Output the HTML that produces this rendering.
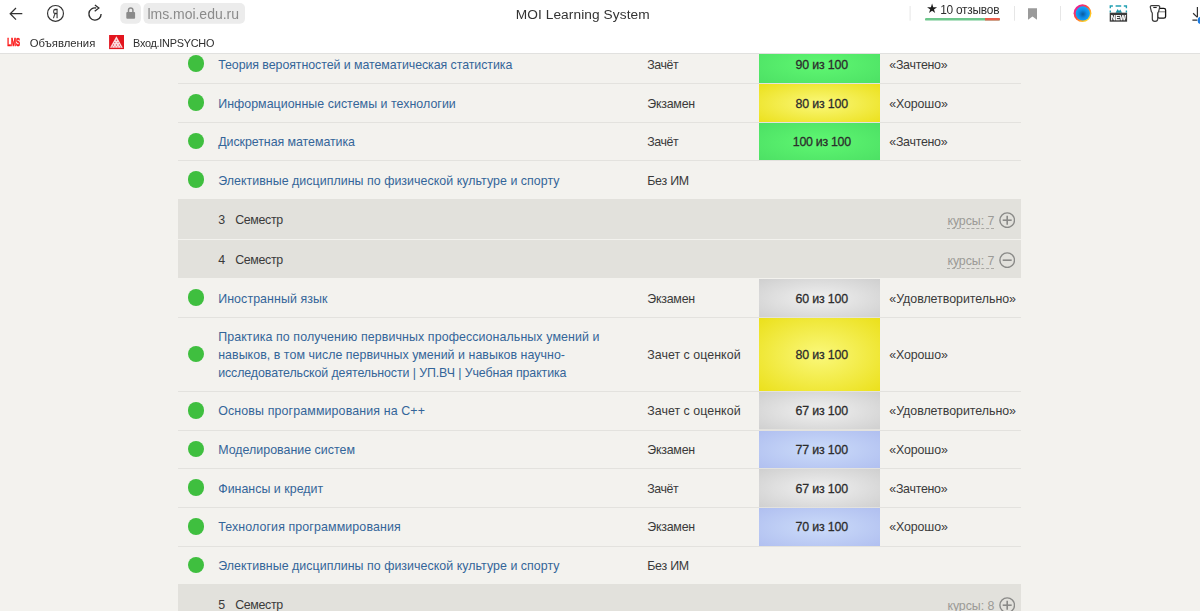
<!DOCTYPE html><html lang="ru"><head><meta charset="utf-8"><title>MOI Learning System</title><style>
html,body{margin:0;padding:0}
body{width:1200px;height:611px;overflow:hidden;background:#f3f2ee;position:relative;font-family:"Liberation Sans",sans-serif;font-size:12.4px;color:#3a3a3a}
.abs{position:absolute}
.ct{white-space:nowrap}
#chrome{position:absolute;left:0;top:0;width:1200px;height:53px;background:#fff;border-bottom:1px solid #e1e1df;box-sizing:content-box;z-index:5;will-change:transform}
.t{position:absolute;white-space:nowrap;line-height:18px}
.t.l{color:#336599}
.t.sc{color:#2c2c2c;-webkit-text-stroke:0.28px #2c2c2c}
.t.k{color:#9b9a96}
.sep{position:absolute;left:178px;width:843px;height:1px;background:#e3e2de}
.dot{position:absolute;left:187.9px;width:16.6px;height:16.6px;border-radius:50%;background:#3fbf3f}
.score{position:absolute;left:759px;width:121px}
.score i{position:absolute;left:0;right:0;bottom:0;height:1px;background:#e3e2de}
.g{background:radial-gradient(ellipse at center,#5ff772 0%,#4ce064 100%)}
.y{background:radial-gradient(ellipse at center,#faf87a 0%,#ebe01a 100%)}
.s{background:radial-gradient(ellipse at center,#f0f0f0 0%,#cfcfcf 100%)}
.b{background:radial-gradient(ellipse at center,#cbdbf9 0%,#b0bff0 100%)}
.sem{position:absolute;left:178px;width:843px;background:#e2e1dc}
.dash{position:absolute;height:0;border-bottom:1px dashed #aaa9a5}
svg.ic{position:absolute}
</style></head><body>
<main id="courses">
<div class="row">
<div class="sep" style="top:82.8px"></div>
<div class="score g" style="top:45.1px;height:38.7px"><i></i></div>
<div class="dot" style="top:55.4px"></div>
<div class="t l" style="left:218.2px;top:56px;letter-spacing:-0.065px;">Теория вероятностей и математическая статистика</div>
<div class="t " style="left:647.2px;top:56px;letter-spacing:-0.406px;">Зачёт</div>
<div class="t sc" style="left:795.6px;top:56px;letter-spacing:-0.169px;">90 из 100</div>
<div class="t " style="left:889.3px;top:56px;letter-spacing:-0.277px;">«Зачтено»</div>
</div>
<div class="row">
<div class="sep" style="top:121.7px"></div>
<div class="score y" style="top:83.8px;height:38.9px"><i></i></div>
<div class="dot" style="top:94.2px"></div>
<div class="t l" style="left:218.2px;top:95px;letter-spacing:0.036px;">Информационные системы и технологии</div>
<div class="t " style="left:647.2px;top:95px;letter-spacing:-0.216px;">Экзамен</div>
<div class="t sc" style="left:795.6px;top:95px;letter-spacing:-0.169px;">80 из 100</div>
<div class="t " style="left:889.3px;top:95px;letter-spacing:-0.132px;">«Хорошо»</div>
</div>
<div class="row">
<div class="sep" style="top:159.8px"></div>
<div class="score g" style="top:122.7px;height:38.1px"><i></i></div>
<div class="dot" style="top:132.6px"></div>
<div class="t l" style="left:218.2px;top:133px;letter-spacing:-0.047px;">Дискретная математика</div>
<div class="t " style="left:647.2px;top:133px;letter-spacing:-0.406px;">Зачёт</div>
<div class="t sc" style="left:792.8px;top:133px;letter-spacing:-0.283px;">100 из 100</div>
<div class="t " style="left:889.3px;top:133px;letter-spacing:-0.277px;">«Зачтено»</div>
</div>
<div class="row">
<div class="sep" style="top:198.7px"></div>
<div class="dot" style="top:171.1px"></div>
<div class="t l" style="left:218.2px;top:172px;letter-spacing:0.043px;">Элективные дисциплины по физической культуре и спорту</div>
<div class="t " style="left:647.2px;top:172px;letter-spacing:-0.222px;">Без ИМ</div>
</div>
<div class="row">
<div class="sep" style="top:316.8px"></div>
<div class="score s" style="top:278.8px;height:39.0px"><i></i></div>
<div class="dot" style="top:289.2px"></div>
<div class="t l" style="left:218.2px;top:290px;letter-spacing:0.089px;">Иностранный язык</div>
<div class="t " style="left:647.2px;top:290px;letter-spacing:-0.216px;">Экзамен</div>
<div class="t sc" style="left:795.6px;top:290px;letter-spacing:-0.169px;">60 из 100</div>
<div class="t " style="left:889.3px;top:290px;letter-spacing:-0.021px;">«Удовлетворительно»</div>
</div>
<div class="row">
<div class="sep" style="top:391.3px"></div>
<div class="score y" style="top:317.8px;height:74.5px"><i></i></div>
<div class="dot" style="top:345.9px"></div>
<div class="t l" style="left:218.2px;top:328px;letter-spacing:0.104px;">Практика по получению первичных профессиональных умений и</div>
<div class="t l" style="left:218.2px;top:346px;letter-spacing:0.046px;">навыков, в том числе первичных умений и навыков научно-</div>
<div class="t l" style="left:218.2px;top:364px;letter-spacing:-0.098px;">исследовательской деятельности | УП.ВЧ | Учебная практика</div>
<div class="t " style="left:647.2px;top:346px;letter-spacing:0.046px;">Зачет с оценкой</div>
<div class="t sc" style="left:795.6px;top:346px;letter-spacing:-0.169px;">80 из 100</div>
<div class="t " style="left:889.3px;top:346px;letter-spacing:-0.132px;">«Хорошо»</div>
</div>
<div class="row">
<div class="sep" style="top:429.5px"></div>
<div class="score s" style="top:392.3px;height:38.2px"><i></i></div>
<div class="dot" style="top:402.3px"></div>
<div class="t l" style="left:218.2px;top:402px;letter-spacing:0.135px;">Основы программирования на C++</div>
<div class="t " style="left:647.2px;top:402px;letter-spacing:0.046px;">Зачет с оценкой</div>
<div class="t sc" style="left:795.6px;top:402px;letter-spacing:-0.169px;">67 из 100</div>
<div class="t " style="left:889.3px;top:402px;letter-spacing:-0.021px;">«Удовлетворительно»</div>
</div>
<div class="row">
<div class="sep" style="top:467.8px"></div>
<div class="score b" style="top:430.5px;height:38.3px"><i></i></div>
<div class="dot" style="top:440.5px"></div>
<div class="t l" style="left:218.2px;top:441px;letter-spacing:0.020px;">Моделирование систем</div>
<div class="t " style="left:647.2px;top:441px;letter-spacing:-0.216px;">Экзамен</div>
<div class="t sc" style="left:795.6px;top:441px;letter-spacing:-0.169px;">77 из 100</div>
<div class="t " style="left:889.3px;top:441px;letter-spacing:-0.132px;">«Хорошо»</div>
</div>
<div class="row">
<div class="sep" style="top:507.0px"></div>
<div class="score s" style="top:468.8px;height:39.2px"><i></i></div>
<div class="dot" style="top:479.3px"></div>
<div class="t l" style="left:218.2px;top:480px;letter-spacing:0.027px;">Финансы и кредит</div>
<div class="t " style="left:647.2px;top:480px;letter-spacing:-0.406px;">Зачёт</div>
<div class="t sc" style="left:795.6px;top:480px;letter-spacing:-0.169px;">67 из 100</div>
<div class="t " style="left:889.3px;top:480px;letter-spacing:-0.277px;">«Зачтено»</div>
</div>
<div class="row">
<div class="sep" style="top:545.6px"></div>
<div class="score b" style="top:508.0px;height:38.6px"><i></i></div>
<div class="dot" style="top:518.2px"></div>
<div class="t l" style="left:218.2px;top:518px;letter-spacing:0.121px;">Технология программирования</div>
<div class="t " style="left:647.2px;top:518px;letter-spacing:-0.216px;">Экзамен</div>
<div class="t sc" style="left:795.6px;top:518px;letter-spacing:-0.169px;">70 из 100</div>
<div class="t " style="left:889.3px;top:518px;letter-spacing:-0.132px;">«Хорошо»</div>
</div>
<div class="row">
<div class="sep" style="top:583.8px"></div>
<div class="dot" style="top:556.6px"></div>
<div class="t l" style="left:218.2px;top:557px;letter-spacing:0.043px;">Элективные дисциплины по физической культуре и спорту</div>
<div class="t " style="left:647.2px;top:557px;letter-spacing:-0.222px;">Без ИМ</div>
</div>
<div class="semrow">
<div class="sem" style="top:199.2px;height:39.5px"></div>
<div class="t " style="left:218.2px;top:211px;">3</div>
<div class="t " style="left:235.2px;top:211px;letter-spacing:-0.336px;">Семестр</div>
<div class="t k" style="left:947.4px;top:212px;letter-spacing:-0.070px;">курсы: 7</div>
<div class="dash" style="left:947.4px;width:47px;top:227.8px"></div>
<svg class="ic" style="left:998.8px;top:211.8px" width="16.4" height="16.4" viewBox="0 0 16.4 16.4"><circle cx="8.2" cy="8.2" r="7.3" fill="none" stroke="#8a8a88" stroke-width="1.4"/><path d="M3.7 8.2H12.7" stroke="#8a8a88" stroke-width="1.6" fill="none"/><path d="M8.2 3.7V12.7" stroke="#8a8a88" stroke-width="1.6" fill="none"/></svg>
</div>
<div class="semrow">
<div class="sem" style="top:239.7px;height:38.6px"></div>
<div class="t " style="left:218.2px;top:251px;">4</div>
<div class="t " style="left:235.2px;top:251px;letter-spacing:-0.336px;">Семестр</div>
<div class="t k" style="left:947.4px;top:252px;letter-spacing:-0.070px;">курсы: 7</div>
<div class="dash" style="left:947.4px;width:47px;top:267.8px"></div>
<svg class="ic" style="left:998.8px;top:251.8px" width="16.4" height="16.4" viewBox="0 0 16.4 16.4"><circle cx="8.2" cy="8.2" r="7.3" fill="none" stroke="#8a8a88" stroke-width="1.4"/><path d="M3.7 8.2H12.7" stroke="#8a8a88" stroke-width="1.6" fill="none"/></svg>
</div>
<div class="semrow">
<div class="sem" style="top:584.3px;height:39.7px"></div>
<div class="t " style="left:218.2px;top:596px;">5</div>
<div class="t " style="left:235.2px;top:596px;letter-spacing:-0.336px;">Семестр</div>
<div class="t k" style="left:947.4px;top:597px;letter-spacing:-0.070px;">курсы: 8</div>
<div class="dash" style="left:947.4px;width:47px;top:612.9px"></div>
<svg class="ic" style="left:998.8px;top:596.9px" width="16.4" height="16.4" viewBox="0 0 16.4 16.4"><circle cx="8.2" cy="8.2" r="7.3" fill="none" stroke="#8a8a88" stroke-width="1.4"/><path d="M3.7 8.2H12.7" stroke="#8a8a88" stroke-width="1.6" fill="none"/><path d="M8.2 3.7V12.7" stroke="#8a8a88" stroke-width="1.6" fill="none"/></svg>
</div>
</main>
<div id="chrome">
<svg class="abs" style="left:0;top:0" width="1200" height="53" viewBox="0 0 1200 53">
  <defs>
    <linearGradient id="ring" x1="0.1" y1="0.1" x2="0.9" y2="0.9">
      <stop offset="0" stop-color="#e21aa8"/><stop offset="0.45" stop-color="#ff4a3a"/><stop offset="0.8" stop-color="#ffc21e"/><stop offset="1" stop-color="#ffe040"/>
    </linearGradient>
    <radialGradient id="blu" cx="0.5" cy="0.55" r="0.5">
      <stop offset="0" stop-color="#0a5a9e"/><stop offset="0.55" stop-color="#0f8ae6"/><stop offset="1" stop-color="#12a6fb"/>
    </radialGradient>
  </defs>
  <!-- back arrow -->
  <path d="M22.3 13.7H10.4M16 8L10.2 13.7L16 19.6" fill="none" stroke="#333" stroke-width="1.25"/>
  <!-- Ya -->
  <circle cx="55.5" cy="13.4" r="7.95" fill="none" stroke="#333" stroke-width="1.15"/>
  <text x="55.3" y="17.9" text-anchor="middle" font-family="Liberation Sans, sans-serif" font-size="12.6" fill="#333" stroke="#333" stroke-width="0.45" textLength="5.3" lengthAdjust="spacingAndGlyphs">Я</text>
  <!-- reload -->
  <path d="M96.2 8A6.1 6.1 0 1 0 101.1 14" fill="none" stroke="#2c2c2c" stroke-width="1.35"/>
  <path d="M94.9 4.9L98.9 8.1L94.7 11.3" fill="none" stroke="#2c2c2c" stroke-width="1.25"/>
  <!-- lock box -->
  <rect x="120.3" y="3" width="20.7" height="20.7" rx="5" fill="#ececec"/>
  <rect x="126.3" y="12" width="8.8" height="6.8" rx="1" fill="#8a8a8a"/>
  <path d="M128.5 12.3V10.1a2.2 2.2 0 0 1 4.4 0V12.3" fill="none" stroke="#8a8a8a" stroke-width="1.5"/>
  <!-- url box -->
  <rect x="143.5" y="3" width="101.5" height="20.7" rx="5" fill="#ececec"/>
  <!-- dividers -->
  <rect x="909.6" y="6" width="1" height="14.7" fill="#e6e6e6"/>
  <rect x="1014" y="6" width="1" height="14.7" fill="#e6e6e6"/>
  <rect x="1060" y="6" width="1" height="14.7" fill="#e6e6e6"/>
  <!-- rating bar -->
  <rect x="925" y="18.1" width="75" height="2.5" rx="1.2" fill="#6dc68b"/>
  <path d="M985 18.1H998.8a1.2 1.25 0 0 1 0 2.5H985z" fill="#e9604e"/>
  <!-- bookmark -->
  <path d="M1028 8.3H1037V19.8L1032.5 16.6L1028 19.8z" fill="#9a9a9a"/>
  <!-- sphere -->
  <circle cx="1082.5" cy="13.2" r="8.9" fill="url(#ring)"/>
  <circle cx="1082.8" cy="13.4" r="7.1" fill="url(#blu)"/>
  <!-- NEW icon -->
  <g fill="none" stroke="#22a0b2" stroke-width="1.4">
    <path d="M1110.3 8.2V6h2.6M1115.6 6h5.6M1123.8 6h2.6V8.2M1110.3 10.5V12.5M1126.4 10.5V12.5"/>
  </g>
  <path d="M1115.6 12.7L1117.6 8.9L1119 10.9L1120.3 9.4L1122 12.7z" fill="#1b95a8"/>
  <rect x="1109.7" y="12.7" width="17.4" height="9" fill="#3b3b3b"/>
  <text x="1118.4" y="20.1" text-anchor="middle" font-family="Liberation Sans, sans-serif" font-weight="bold" font-size="7.2" fill="#fff" stroke="#fff" stroke-width="0.25" textLength="15.4" lengthAdjust="spacingAndGlyphs">NEW</text>
  <!-- key + card -->
  <rect x="1157.6" y="8.3" width="8" height="9.9" rx="1.8" fill="none" stroke="#141414" stroke-width="1.3"/>
  <rect x="1158.2" y="11.1" width="6.8" height="1.3" fill="#9a9a9a"/>
  <path d="M1151.6 5.6H1158.4a1.3 1.3 0 0 1 1.3 1.6L1158.6 11.6a3 3 0 0 0-.9 2V19.1a2.6 2.2 0 0 1-5.4 0V13.6a3 3 0 0 0-.9-2L1150.3 7.2a1.3 1.3 0 0 1 1.3-1.6z" fill="#fff" stroke="#3a3a3a" stroke-width="1.2"/>
  <path d="M1153.3 7.5H1156.7" stroke="#222" stroke-width="1.1"/>
  <!-- download -->
  <path d="M1197.4 7V17.3M1193.1 13.2L1197.4 17.4M1192.4 20.2H1197.2" fill="none" stroke="#333" stroke-width="1.2"/>
  <circle cx="1201.4" cy="20.4" r="3.8" fill="#1a7be2"/>
  <!-- bookmarks bar favicons -->
  <text x="7.2" y="45.9" font-family="Liberation Sans, sans-serif" font-weight="bold" font-size="11.2" fill="#fb1414" stroke="#fb1414" stroke-width="0.55" textLength="12.8" lengthAdjust="spacingAndGlyphs">LMS</text>
  <rect x="109.1" y="35" width="14.9" height="14.1" fill="#e3151e"/>
  <path d="M116.4 36.3L122.8 47.8H110z" fill="#fbdfe0"/>
  <g fill="#e8505a">
    <circle cx="116.4" cy="40.2" r=".7"/><circle cx="114.8" cy="42.6" r=".7"/><circle cx="118" cy="42.6" r=".7"/>
    <circle cx="113.4" cy="45" r=".7"/><circle cx="116.4" cy="45" r=".7"/><circle cx="119.4" cy="45" r=".7"/>
    <circle cx="112.2" cy="46.9" r=".6"/><circle cx="115" cy="46.9" r=".6"/><circle cx="117.8" cy="46.9" r=".6"/><circle cx="120.6" cy="46.9" r=".6"/>
  </g>
</svg>
<div class="abs ct" id="url" style="letter-spacing:-0.016px;left:147.4px;top:3.7px;font-size:14px;line-height:20px;color:#8b8b8b">lms.moi.edu.ru</div>
<div class="abs ct" id="ttl" style="letter-spacing:0.090px;left:515.7px;top:5.2px;font-size:13.7px;line-height:20px;color:#333">MOI Learning System</div>
<div class="abs ct" id="star" style="left:926.3px;top:-0.4px;font-size:13px;line-height:18px;color:#1c1c1c;font-family:'DejaVu Sans',sans-serif">★</div>
<div class="abs ct" id="rev" style="letter-spacing:-0.239px;left:940.2px;top:0.9px;font-size:11.9px;line-height:18px;color:#2e2e2e">10 отзывов</div>
<div class="abs ct" id="bm1" style="letter-spacing:0.017px;left:29.8px;top:33.5px;font-size:11.3px;line-height:18px;color:#2e2e2e">Объявления</div>
<div class="abs ct" id="bm2" style="letter-spacing:-0.262px;left:133px;top:33.5px;font-size:10.9px;line-height:18px;color:#2e2e2e">Вход.INPSYCHO</div>
</div>

</body></html>
